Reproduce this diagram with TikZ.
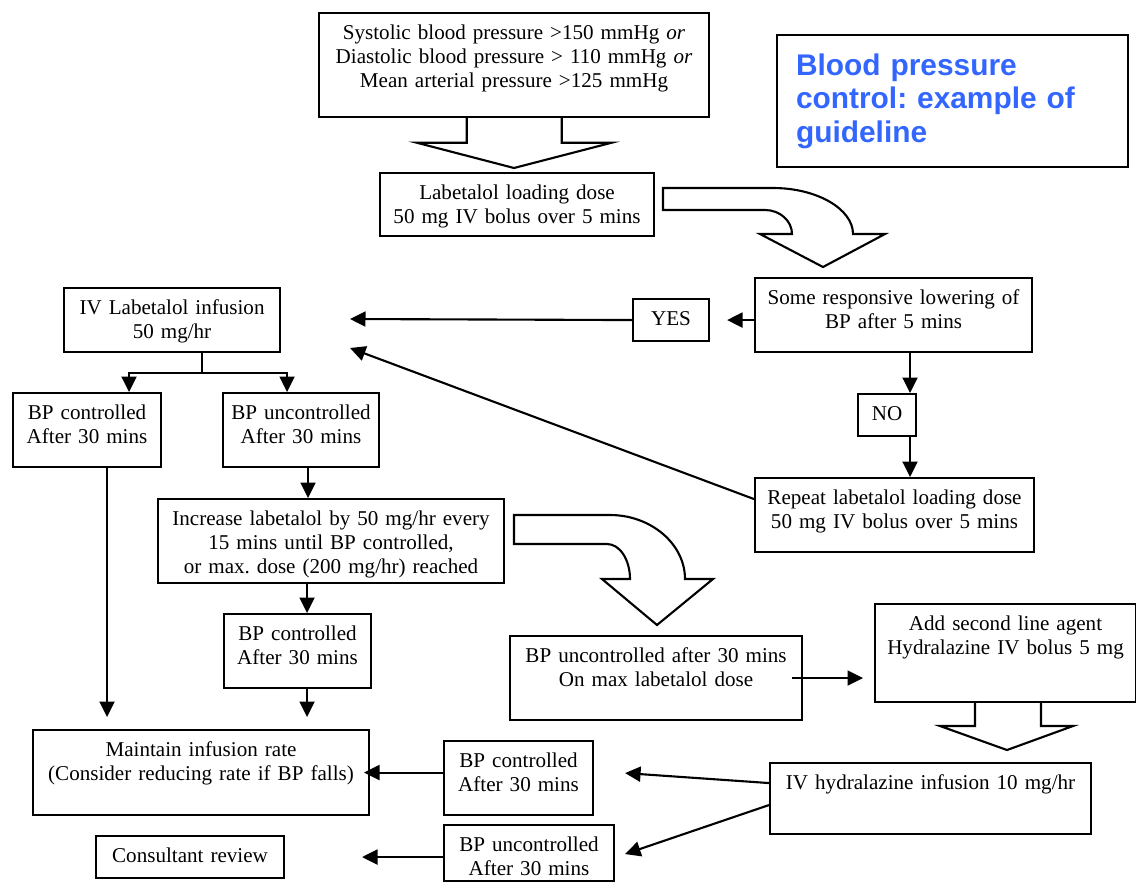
\documentclass[tikz,border=0pt]{standalone}
\usepackage{fontspec}
\setmainfont{Liberation Serif}
\newfontfamily\titlefont{Liberation Sans}
\usepackage{tikz}
\usepackage{xcolor}
\usetikzlibrary{arrows.meta,calc}
\definecolor{TitleBlue}{HTML}{3366FF}
\frenchspacing

\begin{document}
\begin{tikzpicture}[
    x=0.02cm,
    y=-0.02cm,
    font=\fontsize{12}{13.9}\selectfont,
    >={Triangle[length=0.31cm,width=0.3cm]},
    box/.style 2 args={draw,line width=1.2pt,anchor=north west,inner xsep=0pt,inner ysep=0pt,
      align=center,text width=#1,text height=0.52cm,text depth=#2},
    link/.style={->,line width=1.2pt},
    blockarrow/.style={draw,line width=1.2pt,line join=miter}
  ]
  \useasboundingbox (0,0) rectangle (1136,893);

  \node[box={7.8cm}{1.56cm}] (sys) at (318,12) {Systolic blood pressure >150 mmHg \textit{or}\\Diastolic blood pressure > 110 mmHg \textit{or}\\Mean arterial pressure >125 mmHg};
  \node[box={6.26cm}{1.84cm},align=left,inner xsep=0.38cm,text height=0.8cm,
    font=\titlefont\bfseries\fontsize{17}{19.3}\selectfont,text=TitleBlue] (title) at (776,34) {Blood pressure\\control: example of\\guideline};
  \node[box={5.48cm}{0.74cm}] (load) at (379,172) {Labetalol loading dose\\50 mg IV bolus over 5 mins};
  \node[box={5.54cm}{0.96cm}] (resp) at (754,277) {Some responsive lowering of\\BP after 5 mins};
  \node[box={1.52cm}{0.32cm}] (yes) at (632,298) {YES};
  \node[box={1.16cm}{0.32cm}] (no) at (857,393) {NO};
  \node[box={5.58cm}{0.96cm}] (rep) at (754,477) {Repeat labetalol loading dose\\50 mg IV bolus over 5 mins};
  \node[box={4.32cm}{0.76cm}] (ivlab) at (63,287) {IV Labetalol infusion\\50 mg/hr};
  \node[box={2.96cm}{0.96cm}] (ctrlA) at (12,392) {BP controlled\\After 30 mins};
  \node[box={3.12cm}{0.96cm}] (uncA) at (222,392) {BP uncontrolled\\After 30 mins};
  \node[box={6.92cm}{1.16cm}] (incr) at (157,498) {Increase labetalol by 50 mg/hr every\\15 mins until BP controlled,\\or max. dose (200 mg/hr) reached};
  \node[box={2.94cm}{0.96cm}] (ctrlB) at (223,613) {BP controlled\\After 30 mins};
  \node[box={5.84cm}{1.16cm}] (uncmax) at (509,635) {BP uncontrolled after 30 mins\\On max labetalol dose};
  \node[box={5.22cm}{1.44cm}] (second) at (874,603) {Add second line agent\\Hydralazine IV bolus 5 mg};
  \node[box={6.42cm}{0.9cm}] (ivhyd) at (769,762) {IV hydralazine infusion 10 mg/hr};
  \node[box={6.72cm}{1.18cm}] (maintain) at (32,729) {Maintain infusion rate\\(Consider reducing rate if BP falls)};
  \node[box={2.98cm}{0.96cm}] (ctrlC) at (443,740) {BP controlled\\After 30 mins};
  \node[box={3.4cm}{0.6cm}] (uncC) at (443,824) {BP uncontrolled\\After 30 mins};
  \node[box={3.76cm}{0.32cm}] (consult) at (95,835) {Consultant review};

  % block arrows
  \draw[blockarrow] (466.7,116) -- (466.7,142.7) -- (416.7,142.7) -- (514,168) -- (611.7,142.7) -- (561.7,142.7) -- (561.7,116);
  \draw[blockarrow] (975,701) -- (975,726) -- (940,726) -- (1007,750) -- (1073,726) -- (1041,726) -- (1041,701);
  \draw[blockarrow] (663,188) -- (773,188) .. controls (817,188) and (853,209) .. (853,234) -- (885,234) -- (823,267) -- (760,234) -- (792,234) .. controls (792,221) and (780,210) .. (765,210) -- (663,210) -- cycle;
  \draw[blockarrow] (514,515) -- (610,515) .. controls (651,515) and (685,544) .. (685,579) -- (713,579) -- (657,625) -- (602,579) -- (630,579) .. controls (630,560) and (620,544) .. (607,544) -- (514,544) -- cycle;

  \coordinate (yesend) at (350,319);
  \coordinate (repend) at (350,348);
  \draw[link,shorten >=0.34cm] (resp.west |- yes.east) -- (yes.east);
  \draw[link] (yes.west) -- (yesend);
  \draw[link] ([yshift=0.32cm]rep.west) -- (repend);
  \draw[link] ([xshift=0.33cm]resp.south) -- ([xshift=0.33cm]resp.south |- no.north);
  \draw[link] ([xshift=0.33cm]resp.south |- no.south) -- ([xshift=0.33cm]resp.south |- rep.north);

  \draw[line width=1.2pt] ([xshift=0.6cm]ivlab.south) -- ++(0,20) coordinate (split);
  \draw[link] (split) -| ([xshift=0.84cm]ctrlA.north);
  \draw[link] (split) -| ([xshift=-0.28cm]uncA.north);
  \draw[link,shorten >=0.24cm] ([xshift=0.4cm]ctrlA.south) -- ([xshift=0.4cm]ctrlA.south |- maintain.north);
  \draw[link] ([xshift=0.14cm]uncA.south) -- ([xshift=0.14cm]uncA.south |- incr.north);
  \draw[link] ([xshift=0.19cm]ctrlB.north |- incr.south) -- ([xshift=0.19cm]ctrlB.north);
  \draw[link,shorten >=0.24cm] ([xshift=0.19cm]ctrlB.south) -- ([xshift=0.19cm]ctrlB.south |- maintain.north);

  \draw[link,shorten <=-0.22cm,shorten >=0.22cm] (uncmax.east) -- (second.west |- uncmax.east);
  \draw[link] ([yshift=0.31cm]ivhyd.west) -- ([xshift=0.62cm,yshift=0.1cm]ctrlC.east);
  \draw[link] ([yshift=-0.13cm]ivhyd.west) -- ([xshift=0.2cm,yshift=-0.02cm]uncC.east);
  \draw[link,shorten >=-0.12cm] (ctrlC.west |- maintain.east) -- (maintain.east);
  \draw[link] (uncC.west |- consult.east) -- ([xshift=1.54cm]consult.east);
\end{tikzpicture}
\end{document}
